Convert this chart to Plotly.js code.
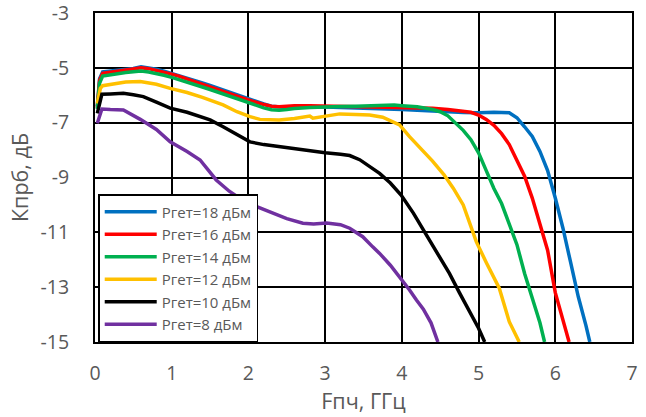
<!DOCTYPE html>
<html>
<head>
<meta charset="utf-8">
<script src="https://cdn.plot.ly/plotly-3.0.1.min.js"></script>
<style>html,body{margin:0;padding:0;background:#fff;}#chart{width:646px;height:417px;}</style>
</head>
<body>
<div id="chart"></div>
<script>
// Series names
const seriesNames = ["Ргет=18 дБм","Ргет=16 дБм","Ргет=14 дБм","Ргет=12 дБм","Ргет=10 дБм","Ргет=8 дБм"];
const seriesColors = ["#0070C0","#FF0000","#00B050","#FFC000","#000000","#7030A0"];

// Pгет=18 дБм
const x18 = [0.03,0.06,0.1,0.2,0.3,0.4,0.5,0.6,0.7,0.8,0.9,1.0,1.1,1.2,1.3,1.4,1.5,1.6,1.7,1.8,1.9,2.0,2.1,2.2,2.3,2.4,2.5,2.6,2.8,3.0,3.2,3.4,3.6,3.8,4.0,4.2,4.4,4.6,4.8,5.0,5.2,5.4,5.5,5.6,5.7,5.8,5.9,6.0,6.1,6.2,6.3,6.4,6.45];
const y18 = [-6.4,-5.4,-5.15,-5.12,-5.08,-5.05,-5.02,-4.96,-5.0,-5.05,-5.12,-5.2,-5.28,-5.38,-5.46,-5.55,-5.64,-5.74,-5.84,-5.94,-6.04,-6.13,-6.23,-6.32,-6.4,-6.44,-6.45,-6.43,-6.42,-6.43,-6.45,-6.46,-6.47,-6.5,-6.52,-6.55,-6.58,-6.62,-6.63,-6.64,-6.62,-6.64,-6.82,-7.15,-7.5,-8.05,-8.75,-9.75,-10.85,-12.1,-13.35,-14.4,-15.0];

// Pгет=16 дБм
const x16 = [0.03,0.06,0.1,0.2,0.3,0.4,0.5,0.6,0.7,0.8,0.9,1.0,1.1,1.2,1.3,1.4,1.5,1.6,1.7,1.8,1.9,2.0,2.1,2.2,2.3,2.4,2.5,2.6,2.8,3.0,3.2,3.4,3.6,3.8,4.0,4.2,4.4,4.6,4.8,4.9,5.0,5.1,5.2,5.3,5.4,5.5,5.6,5.7,5.8,5.9,6.0,6.1,6.18];
const y16 = [-6.45,-5.45,-5.2,-5.15,-5.1,-5.08,-5.04,-5.0,-5.03,-5.09,-5.15,-5.23,-5.31,-5.41,-5.5,-5.59,-5.68,-5.78,-5.88,-5.98,-6.08,-6.17,-6.26,-6.34,-6.4,-6.42,-6.4,-6.38,-6.38,-6.39,-6.4,-6.4,-6.41,-6.41,-6.42,-6.44,-6.47,-6.52,-6.58,-6.62,-6.72,-6.88,-7.1,-7.4,-7.8,-8.35,-8.95,-9.75,-10.7,-11.65,-13.2,-14.15,-15.0];

// Pгет=14 дБм
const x14 = [0.03,0.06,0.1,0.2,0.3,0.4,0.5,0.6,0.7,0.8,0.9,1.0,1.1,1.2,1.3,1.4,1.5,1.6,1.7,1.8,1.9,2.0,2.1,2.2,2.3,2.4,2.5,2.6,2.8,3.0,3.2,3.4,3.6,3.8,3.9,4.0,4.2,4.4,4.5,4.6,4.7,4.8,4.9,5.0,5.1,5.2,5.3,5.4,5.5,5.6,5.7,5.8,5.86];
const y14 = [-6.5,-5.55,-5.3,-5.25,-5.2,-5.17,-5.14,-5.12,-5.15,-5.2,-5.27,-5.35,-5.43,-5.52,-5.61,-5.7,-5.79,-5.89,-5.99,-6.09,-6.19,-6.29,-6.38,-6.46,-6.53,-6.55,-6.52,-6.48,-6.45,-6.42,-6.41,-6.4,-6.38,-6.36,-6.36,-6.38,-6.42,-6.52,-6.6,-6.75,-7.0,-7.28,-7.62,-8.1,-8.75,-9.4,-9.95,-10.7,-11.45,-12.5,-13.4,-14.3,-15.0];

// Pгет=12 дБм
const x12 = [0.03,0.07,0.1,0.2,0.4,0.59,0.8,0.98,1.2,1.4,1.67,1.85,2.02,2.15,2.4,2.6,2.8,2.84,3.0,3.19,3.4,3.58,3.75,3.88,3.97,4.1,4.25,4.4,4.55,4.67,4.8,4.97,5.1,5.27,5.4,5.53];
const y12 = [-6.3,-5.75,-5.65,-5.6,-5.52,-5.5,-5.6,-5.75,-5.9,-6.08,-6.35,-6.6,-6.78,-6.88,-6.9,-6.85,-6.76,-6.84,-6.78,-6.68,-6.7,-6.72,-6.8,-6.96,-7.08,-7.51,-7.95,-8.4,-8.9,-9.39,-10.0,-11.34,-12.1,-13.04,-14.26,-15.0];

// Pгет=10 дБм
const x10 = [0.03,0.09,0.2,0.37,0.5,0.63,0.8,0.98,1.2,1.37,1.5,1.67,1.85,2.02,2.2,2.54,2.67,2.8,3.0,3.2,3.32,3.45,3.58,3.71,3.85,3.99,4.15,4.28,4.4,4.49,4.62,4.75,4.9,5.0,5.08];
const y10 = [-6.66,-5.96,-5.95,-5.93,-5.98,-6.05,-6.25,-6.47,-6.62,-6.78,-6.9,-7.15,-7.42,-7.7,-7.8,-7.93,-7.98,-8.0,-8.1,-8.15,-8.2,-8.35,-8.6,-8.85,-9.2,-9.64,-10.3,-10.92,-11.45,-11.9,-12.5,-13.2,-13.95,-14.5,-15.0];

// Pгет=8 дБм
const x8 = [0.03,0.09,0.2,0.37,0.59,0.8,0.98,1.2,1.37,1.58,1.75,1.89,2.1,2.32,2.5,2.71,2.85,3.02,3.2,3.32,3.49,3.62,3.71,3.85,3.99,4.1,4.19,4.28,4.38,4.47];
const y8 = [-7.02,-6.5,-6.52,-6.54,-6.88,-7.25,-7.7,-8.05,-8.36,-9.09,-9.5,-9.76,-10.05,-10.31,-10.5,-10.67,-10.7,-10.66,-10.72,-10.85,-11.16,-11.53,-11.77,-12.2,-12.7,-13.1,-13.47,-13.8,-14.3,-15.0];

const xs = [x18,x16,x14,x12,x10,x8];
const ys = [y18,y16,y14,y12,y10,y8];

const yTickVals = [-15,-13,-11,-9,-7,-5,-3];
const yTickText = ["-15","-13","-11","-9","-7","-5","-3"];
const xTickVals = [0,1,2,3,4,5,6,7];
const xTickText = ["0","1","2","3","4","5","6","7"];

const traces = xs.map((xv,i)=>({
  type:'scatter', mode:'lines', x:xv, y:ys[i], name:seriesNames[i],
  line:{color:seriesColors[i], width:3.5, shape:'linear'}
}));

const fontFam = '"Open Sans", "Liberation Sans", sans-serif';
const layout = {
  width:646, height:417,
  margin:{l:95, r:14, t:13, b:75},
  paper_bgcolor:'#ffffff', plot_bgcolor:'#ffffff',
  font:{family:fontFam, color:'#595959', size:18},
  showlegend:true,
  legend:{x:0.006, y:0.0, xanchor:'left', yanchor:'bottom', bgcolor:'#ffffff',
          bordercolor:'#000000', borderwidth:1.5, font:{size:15, color:'#595959'},
          tracegroupgap:0, itemwidth:52},
  xaxis:{range:[0,7], tickmode:'array', tickvals:xTickVals, ticktext:xTickText, showgrid:true, gridcolor:'#000000', gridwidth:2,
         showline:true, linecolor:'#000000', linewidth:2, mirror:true, zeroline:false, automargin:false,
         ticks:'', ticklabelstandoff:13, ticklabeloverflow:'allow', tickfont:{size:19.5, color:'#595959'},
         title:{text:'Fпч, ГГц', font:{size:21.5, color:'#595959'}, standoff:0}},
  yaxis:{range:[-15,-3], tickmode:'array', tickvals:yTickVals, ticktext:yTickText, showgrid:true, gridcolor:'#000000', gridwidth:2,
         showline:true, linecolor:'#000000', linewidth:2, mirror:true, zeroline:false, automargin:false,
         ticks:'', ticklabelstandoff:20, ticklabeloverflow:'allow', tickfont:{size:19.5, color:'#595959'},
         title:{text:'Кпрб, дБ', font:{size:21.5, color:'#595959'}, standoff:6}}
};
Plotly.newPlot('chart', traces, layout, {displayModeBar:false, staticPlot:true});
</script>
</body>
</html>
